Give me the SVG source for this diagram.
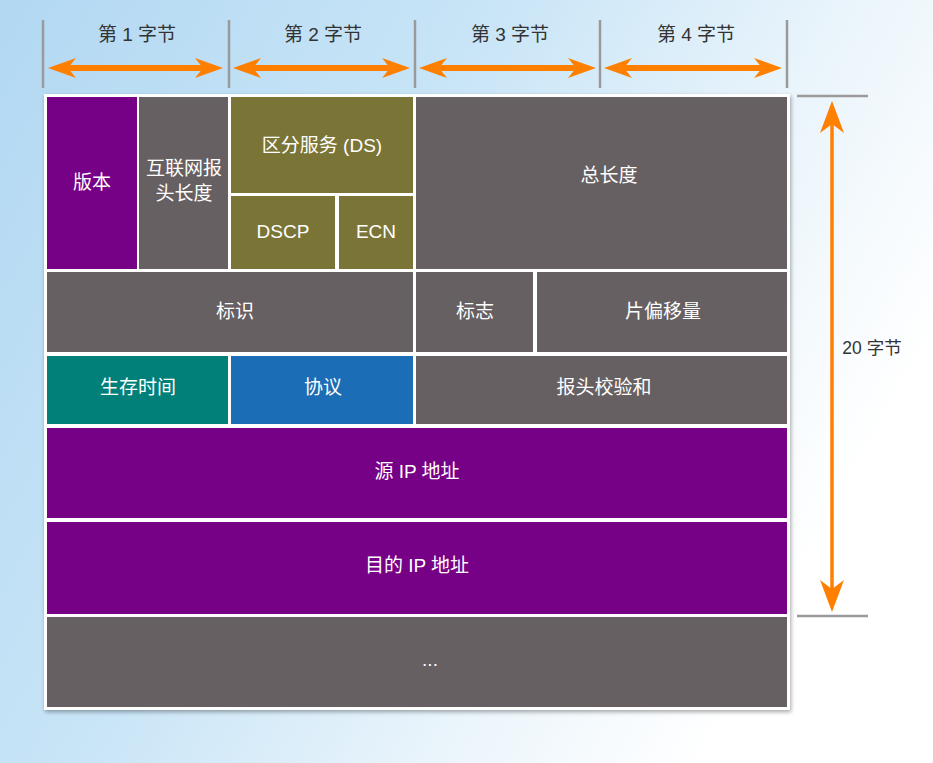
<svg xmlns="http://www.w3.org/2000/svg" width="933" height="763" viewBox="0 0 933 763">
<defs>
<linearGradient id="bg" x1="0" y1="0" x2="1" y2="0.45">
<stop offset="0" stop-color="#b2d8f2"/>
<stop offset="0.45" stop-color="#c9e5f7"/>
<stop offset="0.75" stop-color="#e9f4fb"/>
<stop offset="1" stop-color="#ffffff"/>
</linearGradient>
<filter id="sh" x="-5%" y="-5%" width="110%" height="110%">
<feGaussianBlur in="SourceAlpha" stdDeviation="2"/>
<feOffset dx="1" dy="2" result="b"/>
<feComponentTransfer><feFuncA type="linear" slope="0.35"/></feComponentTransfer>
<feMerge><feMergeNode/><feMergeNode in="SourceGraphic"/></feMerge>
</filter>
<marker id="ah" viewBox="0 -10 28 20" refX="8" refY="0" markerWidth="28" markerHeight="20" markerUnits="userSpaceOnUse" orient="auto-start-reverse">
<path d="M28,0 L0,-10 L8,0 L0,10 Z" fill="#ff8000"/>
</marker>
<marker id="av" viewBox="0 -12 32 24" refX="9" refY="0" markerWidth="32" markerHeight="24" markerUnits="userSpaceOnUse" orient="auto-start-reverse">
<path d="M32,0 L0,-12 L9,0 L0,12 Z" fill="#ff8000"/>
</marker>
<style>
.hdr{font-family:"Liberation Sans","Noto Sans CJK SC",sans-serif;font-size:19px;fill:#333;text-anchor:middle}
.side{font-family:"Liberation Sans","Noto Sans CJK SC",sans-serif;font-size:17.5px;fill:#333;text-anchor:middle}
.lbl{font-family:"Liberation Sans","Noto Sans CJK SC",sans-serif;font-size:19px;fill:#fff;text-anchor:middle;dominant-baseline:central}
.tick{stroke:#9a9a9a;stroke-width:2.5}
.arr{stroke:#ff8000;stroke-width:6;fill:none}
.arrv{stroke:#ff8000;stroke-width:3.5;fill:none}
.purple{fill:#760086}
.gray{fill:#676062}
.olive{fill:#7a7536}
.teal{fill:#008079}
.blue{fill:#1b6db5}
</style>
</defs>
<rect width="933" height="763" fill="url(#bg)"/>

<g id="header">
<line class="tick" x1="43" y1="20" x2="43" y2="88"/>
<line class="tick" x1="229" y1="20" x2="229" y2="88"/>
<line class="tick" x1="415" y1="20" x2="415" y2="88"/>
<line class="tick" x1="600" y1="20" x2="600" y2="88"/>
<line class="tick" x1="787" y1="20" x2="787" y2="88"/>
<text class="hdr" x="137" y="41">第 1 字节</text>
<text class="hdr" x="323" y="41">第 2 字节</text>
<text class="hdr" x="510" y="41">第 3 字节</text>
<text class="hdr" x="696" y="41">第 4 字节</text>
</g>

<g id="connectors">
<line class="arr" x1="68" y1="68" x2="203" y2="68" marker-start="url(#ah)" marker-end="url(#ah)"/>
<line class="arr" x1="253" y1="68" x2="390" y2="68" marker-start="url(#ah)" marker-end="url(#ah)"/>
<line class="arr" x1="439" y1="68" x2="576" y2="68" marker-start="url(#ah)" marker-end="url(#ah)"/>
<line class="arr" x1="624" y1="68" x2="762" y2="68" marker-start="url(#ah)" marker-end="url(#ah)"/>
<line class="tick" x1="797" y1="96" x2="868" y2="96"/>
<line class="tick" x1="797" y1="616" x2="868" y2="616"/>
<line class="arrv" x1="832" y1="124" x2="832" y2="589" marker-start="url(#av)" marker-end="url(#av)"/>
</g>
<text id="size" class="side" x="872" y="354">20 字节</text>

<rect id="frame" x="44" y="94" width="746" height="616" fill="#fff" filter="url(#sh)"/>

<g id="version"><rect class="purple" x="47" y="97" width="90" height="172"/><text class="lbl" x="92" y="182">版本</text></g>
<g id="ihl"><rect class="gray" x="139" y="97" width="89" height="172"/><text class="lbl" x="184" y="168">互联网报</text><text class="lbl" x="184" y="193">头长度</text></g>
<g id="ds"><rect class="olive" x="231" y="97" width="182" height="96"/><text class="lbl" x="322" y="145">区分服务 (DS)</text></g>
<g id="dscp"><rect class="olive" x="231" y="196" width="104" height="73"/><text class="lbl" x="283" y="231">DSCP</text></g>
<g id="ecn"><rect class="olive" x="339" y="196" width="74" height="73"/><text class="lbl" x="376" y="231">ECN</text></g>
<g id="totlen"><rect class="gray" x="416" y="97" width="371" height="172"/><text class="lbl" x="609" y="175">总长度</text></g>

<g id="ident"><rect class="gray" x="47" y="272" width="366" height="80"/><text class="lbl" x="235" y="311">标识</text></g>
<g id="flags"><rect class="gray" x="416" y="272" width="117" height="80"/><text class="lbl" x="475" y="311">标志</text></g>
<g id="fragoff"><rect class="gray" x="537" y="272" width="250" height="80"/><text class="lbl" x="663" y="311">片偏移量</text></g>

<g id="ttl"><rect class="teal" x="47" y="356" width="181" height="68"/><text class="lbl" x="138" y="387">生存时间</text></g>
<g id="proto"><rect class="blue" x="231" y="356" width="182" height="68"/><text class="lbl" x="323" y="387">协议</text></g>
<g id="csum"><rect class="gray" x="416" y="356" width="371" height="68"/><text class="lbl" x="604" y="387">报头校验和</text></g>

<g id="src"><rect class="purple" x="47" y="428" width="740" height="90"/><text class="lbl" x="417" y="471">源 IP 地址</text></g>
<g id="dst"><rect class="purple" x="47" y="522" width="740" height="92"/><text class="lbl" x="417" y="565">目的 IP 地址</text></g>
<g id="more"><rect class="gray" x="47" y="617" width="740" height="90"/><text class="lbl" x="430" y="659">...</text></g>
</svg>
